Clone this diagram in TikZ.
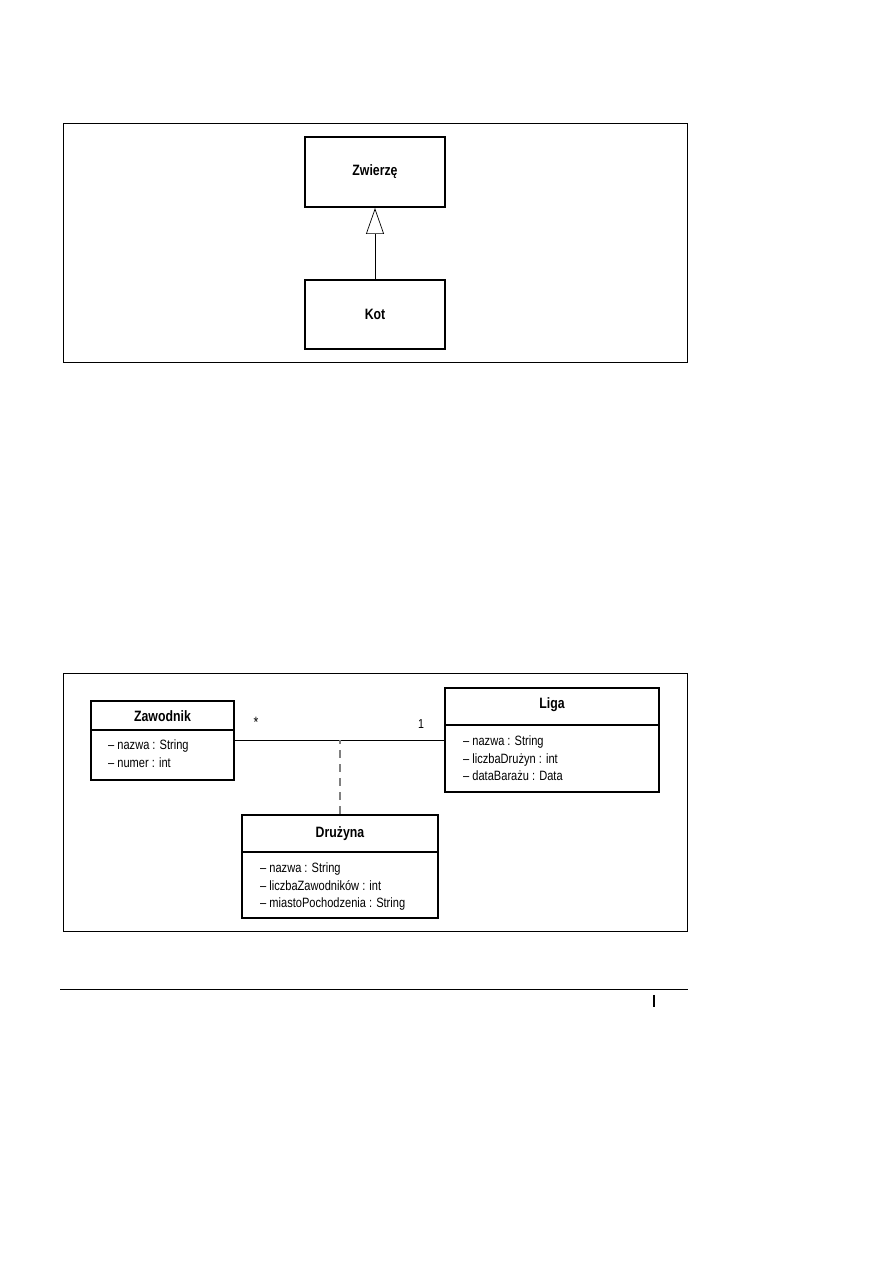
\documentclass[tikz,border=0pt]{standalone}
\usepackage{fontspec}
\setmainfont[FakeStretch=0.82]{Liberation Sans}
\usetikzlibrary{arrows.meta}
\tikzset{
	ramka/.style={draw,line width=0.8pt},
	klasa/.style={draw,line width=2pt,anchor=north west,inner sep=0pt},
	tytul/.style={font=\bfseries\fontsize{15}{17}\selectfont},
	pola/.style={anchor=north west,align=left,inner sep=0pt,font=\fontsize{13.5}{17.5}\selectfont}
}
\begin{document}
\begin{tikzpicture}[x=1pt,y=1pt]
				\useasboundingbox (0,0) rectangle (893,1263);
				% dziedziczenie
				\draw[ramka] (63,901) rectangle (687,1140);
				\node[klasa,minimum width=140pt,minimum height=70pt] (Zw) at (304,1127) {};
				\node[tytul] (ZwT) at (Zw.center) {Zwierzę};
				\node[klasa,minimum width=140pt,minimum height=69pt] (Kot) at (304,984) {};
				\node[tytul] (KotT) at (Kot.center) {Kot};
				\draw[line width=0.7pt,-{Triangle[open,length=26pt,width=18pt,line width=0.7pt]}] (Kot.north)--(Zw.south);
				% asocjacja z klasa
				\draw[ramka] (63,332) rectangle (687,590);
				\node[klasa,minimum width=143pt,minimum height=79pt] (Zaw) at (90,563) {};
				\node[klasa,minimum width=214pt,minimum height=104pt] (Liga) at (444,576) {};
				\node[klasa,minimum width=196pt,minimum height=103pt] (Druz) at (241,449) {};
				\draw[line width=1.5pt] (Zaw.west |- 0,533)--(Zaw.east |- 0,533);
				\draw[line width=1.5pt] (Liga.west |- 0,538)--(Liga.east |- 0,538);
				\draw[line width=1.5pt] (Druz.west |- 0,411)--(Druz.east |- 0,411);
				\node[tytul] (ZawT) at (Zaw.north |- 0,547) {Zawodnik};
				\node[tytul] (LigaT) at (Liga.north |- 0,558) {Liga};
				\node[tytul] (DruzT) at (Druz.north |- 0,429) {Drużyna};
				\node[pola] (ZawP) at (108,523) {– nazwa : String\\– numer : int};
				\node[pola] (LigaP) at (463,527) {– nazwa : String\\– liczbaDrużyn : int\\– dataBarażu : Data};
				\node[pola] (DruzP) at (260,400) {– nazwa : String\\– liczbaZawodników : int\\– miastoPochodzenia : String};
				\draw[line width=0.8pt] (Zaw.east)--(Zaw.east -| Liga.west);
				\draw[gray,line width=1.2pt,dash pattern=on 8pt off 6pt] (Druz.north)--(Druz.north |- Zaw.east);
				\node[font=\fontsize{15}{15}\selectfont] (gw) at (256,541) {*};
				\node[font=\fontsize{13}{13}\selectfont] (jd) at (421,539) {1};
				% stopka
				\coordinate (S1) at (60,274);
				\coordinate (S2) at (688,274);
				\draw[line width=0.9pt] (S1)--(S2);
				\draw[line width=2pt] (654,268)--(654,256);
			\end{tikzpicture}
\end{document}
